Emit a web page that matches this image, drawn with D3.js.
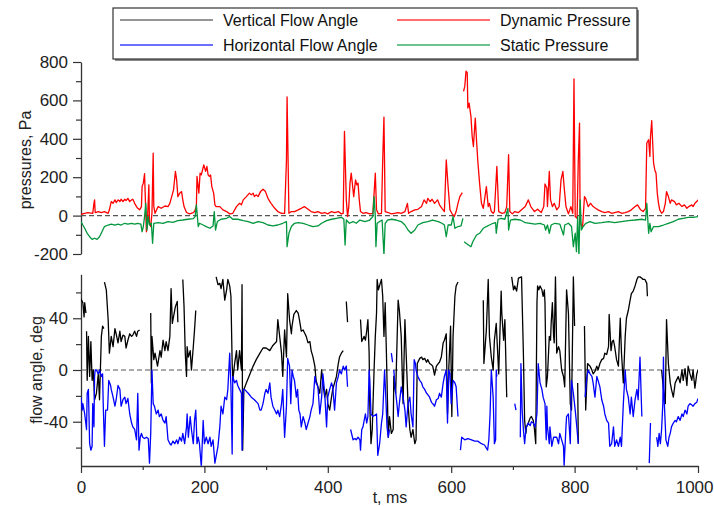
<!DOCTYPE html>
<html><head><meta charset="utf-8">
<script src="https://cdn.jsdelivr.net/npm/d3@7"></script>
<style>body{margin:0;background:#fff}svg{display:block;font-family:"Liberation Sans",Arial,sans-serif}</style>
</head><body><svg id="c" width="714" height="506"></svg>
<script>
// ---- data (t in ms, value) ; null = gap ----
const xTicks = [0,200,400,600,800,1000];
const pressureTicks = [-200,0,200,400,600,800];
const angleTicks = [-40,0,40];
const seriesNames = ["Vertical Flow Angle","Dynamic Pressure","Horizontal Flow Angle","Static Pressure"];

const dynamicPressure = [[0,7],[6,12],[11,16],[19,12],[21,64],[22,82],[23,16],[28,21],[33,16],[38,21],[44,12],[46,30],[49,73],[52,64],[55,82],[57,68],[60,82],[63,73],[65,85],[68,73],[71,85],[73,78],[76,90],[79,73],[82,82],[84,85],[87,64],[90,47],[92,38],[95,30],[98,47],[99,151],[101,169],[103,218],[105,12],[106,-84],[108,-5],[110,160],[111,-40],[113,-57],[115,12],[117,325],[118,47],[120,12],[125,47],[130,38],[136,50],[141,47],[144,64],[147,99],[150,134],[153,230],[155,186],[157,99],[160,117],[163,125],[165,82],[167,47],[171,16],[176,9],[182,16],[184,21],[187,47],[188,204],[191,117],[193,221],[195,212],[197,238],[199,264],[202,230],[204,256],[206,212],[208,204],[210,212],[212,151],[215,117],[217,56],[219,47],[225,47],[230,30],[236,21],[241,9],[246,12],[252,47],[257,64],[260,56],[263,82],[268,99],[273,117],[276,108],[279,117],[281,99],[284,108],[287,99],[291,125],[295,137],[299,125],[303,90],[308,64],[314,38],[319,21],[325,12],[330,12],[333,290],[334,618],[337,12],[341,21],[346,21],[352,30],[357,38],[362,47],[368,33],[373,21],[379,16],[384,21],[390,12],[395,16],[400,9],[406,21],[411,16],[417,21],[422,9],[425,12],[427,438],[430,82],[432,-5],[434,47],[436,169],[438,221],[440,160],[442,99],[445,186],[447,160],[449,169],[451,82],[453,21],[457,12],[462,16],[468,9],[473,12],[477,221],[479,30],[482,9],[487,12],[489,290],[491,513],[493,21],[498,16],[503,9],[508,12],[514,16],[519,12],[525,21],[529,64],[531,12],[535,21],[541,30],[546,33],[552,47],[556,82],[560,64],[562,90],[566,73],[569,85],[573,64],[578,82],[581,56],[585,38],[589,21],[592,290],[595,151],[598,30],[601,12],[605,-5],[608,21],[611,64],[614,99],[618,120],[619,null],[620,647],[622,673],[624,752],[626,743],[627,560],[629,586],[632,517],[634,412],[636,360],[639,508],[641,395],[643,290],[646,169],[649,64],[652,38],[654,82],[657,151],[660,47],[662,64],[665,21],[668,12],[670,21],[674,256],[677,21],[682,12],[687,16],[690,47],[693,317],[695,21],[699,9],[703,21],[709,16],[714,30],[720,47],[725,82],[729,47],[735,21],[740,33],[746,16],[750,47],[752,165],[755,143],[756,47],[759,230],[761,82],[764,47],[767,64],[771,30],[775,47],[778,186],[781,230],[783,151],[786,47],[790,9],[794,47],[797,12],[799,712],[801,-5],[804,-14],[806,290],[808,482],[809,-40],[813,-57],[816,99],[818,90],[822,47],[826,64],[830,47],[834,38],[838,30],[844,21],[849,16],[855,21],[860,12],[865,16],[871,21],[876,12],[882,16],[887,21],[892,30],[898,47],[902,56],[907,30],[911,21],[915,38],[917,378],[920,395],[922,308],[923,412],[925,494],[928,273],[930,238],[932,221],[934,117],[936,64],[938,30],[941,12],[944,21],[947,64],[949,125],[952,99],[955,64],[957,82],[962,73],[965,56],[969,64],[974,47],[978,56],[982,38],[985,47],[990,56],[992,47],[995,64],[998,73],[1000,82]];

const staticPressure = [[0,-31],[3,-49],[6,-66],[10,-92],[14,-110],[18,-124],[22,-118],[26,-124],[30,-110],[34,-84],[38,-57],[44,-49],[49,-44],[55,-49],[60,-44],[65,-49],[71,-40],[76,-44],[82,-40],[87,-44],[92,-40],[97,-44],[99,-84],[101,-57],[103,-5],[105,64],[107,-75],[109,-5],[111,-49],[114,-40],[116,-144],[118,-40],[125,-37],[133,-40],[141,-31],[149,-35],[157,-26],[165,-23],[173,-19],[182,-16],[185,-5],[187,56],[190,-57],[192,-40],[198,-49],[203,-57],[209,-66],[214,-54],[216,21],[218,-75],[221,-31],[227,-19],[236,-14],[241,-5],[246,-19],[254,-19],[263,-26],[271,-31],[279,-40],[287,-31],[295,-37],[303,-49],[311,-54],[319,-49],[327,-40],[333,-31],[334,-162],[337,-92],[341,-57],[346,-40],[352,-37],[360,-40],[368,-49],[376,-57],[384,-54],[390,-40],[398,-26],[406,-19],[414,-14],[422,-9],[426,-19],[428,-153],[430,-23],[435,-40],[441,-31],[446,-40],[452,-23],[460,-31],[468,-23],[473,-5],[475,99],[477,-5],[478,-162],[480,-40],[484,-31],[488,-23],[491,-205],[493,-40],[497,-23],[503,-19],[511,-23],[519,-31],[525,-49],[530,-75],[535,-92],[541,-75],[546,-49],[554,-37],[562,-31],[570,-23],[579,-31],[585,-40],[589,-49],[592,-110],[595,-49],[600,-49],[603,-5],[606,-66],[611,-57],[616,-54],[619,-14],[620,null],[621,-136],[624,-144],[628,-153],[632,-162],[635,-136],[641,-101],[646,-92],[652,-66],[657,-57],[662,-49],[668,-40],[672,-37],[673,-92],[676,-19],[681,-14],[687,-19],[692,38],[693,-75],[696,-23],[703,-19],[712,-23],[720,-37],[728,-40],[736,-44],[744,-40],[751,-49],[753,-75],[756,-49],[759,-92],[762,-49],[768,-40],[776,-44],[782,-101],[784,-49],[790,-40],[795,-57],[798,-162],[801,-92],[803,-188],[805,-5],[807,-214],[809,82],[811,-75],[814,-57],[818,-40],[825,-31],[833,-40],[844,-37],[855,-31],[865,-37],[876,-31],[887,-26],[898,-23],[909,-19],[915,-23],[917,64],[920,-92],[922,-40],[924,-84],[928,-57],[936,-57],[944,-49],[952,-40],[960,-31],[968,-19],[976,-14],[984,-9],[992,-9],[1000,-5]];

const verticalAngle = [[0,55],[3,52],[5,41],[6,52],[8,44],[8.5,null],[9,30],[10,-8],[12,26],[14,-5],[16,22],[18,-8],[20,0],[22,-23],[25,-18],[28,-3],[30,-23],[33,26],[35,34],[37,32],[37.5,null],[38,68],[41,62],[44,39],[46,13],[49,26],[52,18],[55,32],[57,28],[60,21],[63,30],[65,22],[68,27],[71,26],[73,17],[76,23],[79,28],[82,26],[84,27],[87,30],[90,26],[92,30],[95,31],[100,null],[113,44],[114,-10],[115,26],[118,8],[120,13],[124,3],[128,15],[130,10],[133,23],[136,15],[138,22],[141,15],[144,26],[146,63],[148,36],[151,44],[153,49],[156,53],[157,37],[160,null],[165,70],[167,49],[169,13],[171,-5],[172,18],[174,10],[177,15],[179,0],[182,18],[184,31],[186,46],[190,null],[219,72],[222,66],[225,67],[227,63],[230,70],[233,54],[236,62],[238,70],[241,65],[243,57],[245,5],[246,-8],[249,5],[252,15],[254,0],[257,15],[260,0],[261,66],[262,-62],[264,-15],[268,-10],[273,-4],[279,3],[284,8],[290,13],[295,17],[300,17],[306,15],[311,19],[317,22],[319,39],[322,26],[325,13],[327,-5],[330,31],[333,10],[335,59],[338,39],[341,28],[342,34],[345,43],[349,46],[352,44],[354,39],[357,30],[360,31],[363,28],[365,26],[368,21],[371,22],[373,15],[376,10],[379,3],[381,-8],[384,-13],[387,-18],[390,0],[392,-10],[395,-21],[398,-15],[400,-26],[403,-31],[406,-21],[408,-15],[411,-10],[414,-5],[417,5],[419,10],[422,13],[425,15],[427,null],[430,53],[432,37],[440,null],[453,39],[455,22],[459,26],[461,23],[463,30],[465,39],[467,13],[468,-26],[470,-57],[472,-46],[475,0],[477,26],[479,44],[480,70],[482,62],[485,67],[487,70],[489,57],[491,26],[493,52],[495,13],[498,-52],[500,-36],[503,-49],[506,-46],[507,-5],[510,-18],[514,54],[516,46],[519,26],[522,-26],[525,39],[527,13],[530,-26],[533,-46],[535,-52],[538,-46],[541,-57],[543,-54],[545,5],[549,9],[552,10],[554,8],[557,9],[560,6],[562,8],[565,5],[568,4],[570,3],[573,-4],[576,3],[579,5],[581,6],[584,10],[587,21],[589,23],[592,28],[594,-34],[596,0],[599,34],[601,-36],[603,26],[606,57],[608,65],[611,68],[620,null],[652,54],[653,5],[657,31],[660,70],[662,26],[665,10],[668,0],[670,23],[673,36],[677,-3],[681,61],[682,44],[685,23],[687,39],[690,-21],[694,null],[698,72],[701,62],[703,65],[706,61],[709,71],[714,72],[717,13],[719,-39],[721,-49],[722,-44],[725,-41],[728,-37],[730,-36],[733,-39],[735,-46],[737,-57],[739,52],[740,65],[742,62],[744,65],[747,62],[749,57],[751,62],[752,52],[754,-13],[756,-5],[759,26],[761,23],[762,36],[764,52],[766,26],[767,21],[769,72],[771,13],[774,18],[776,15],[779,0],[782,-5],[784,-13],[787,62],[790,44],[793,-26],[795,-31],[798,72],[800,34],[802,null],[805,-10],[806,-57],[810,null],[816,34],[818,-31],[821,5],[825,3],[828,0],[830,-3],[833,-1],[836,3],[838,0],[841,5],[844,8],[847,9],[849,13],[852,12],[855,18],[856,43],[859,15],[861,22],[863,23],[865,18],[868,8],[871,3],[874,40],[876,13],[879,-10],[882,26],[884,40],[887,46],[890,54],[892,59],[895,61],[898,65],[901,70],[903,72],[906,72],[909,71],[911,70],[914,70],[917,67],[918,57],[930,null],[941,0],[944,-15],[947,-26],[949,39],[952,5],[955,-10],[957,-15],[960,-21],[963,-10],[965,-8],[968,-5],[971,-10],[974,0],[976,-8],[979,1],[982,-12],[984,3],[987,-3],[990,-8],[992,0],[995,-14],[998,-3],[1000,0]];

const horizontalAngle = [[0,-21],[2,-31],[3,-26],[6,-34],[9,-46],[10,-18],[12,-15],[14,-57],[16,-62],[18,-59],[19,-26],[21,-44],[22,-5],[23,0],[25,0],[28,-3],[30,0],[33,-5],[35,-3],[36,-26],[38,-59],[40,-31],[43,-31],[45,-8],[48,-12],[49,-15],[52,-21],[55,-28],[57,-23],[60,-12],[63,-15],[65,-28],[68,-23],[71,-21],[73,-26],[76,-22],[79,-34],[82,-41],[84,-44],[87,-46],[90,-54],[92,-18],[94,-62],[96,-52],[98,-49],[100,-52],[103,-53],[106,-52],[109,-53],[111,-72],[113,-49],[115,0],[117,-26],[119,-28],[122,-34],[125,-31],[127,-36],[130,-34],[133,-39],[136,-41],[138,-36],[141,-54],[144,-57],[146,-58],[149,-55],[152,-57],[155,-54],[157,-57],[160,-52],[163,-55],[165,-49],[168,-57],[171,-44],[172,-34],[174,-52],[177,-36],[179,-46],[182,-57],[184,-39],[186,-31],[188,-57],[190,-52],[192,-57],[195,-75],[198,-39],[200,-57],[203,-52],[206,-57],[209,-52],[211,-59],[214,-54],[217,-72],[222,-59],[225,-44],[227,-28],[230,-34],[233,-21],[236,-23],[238,-15],[241,13],[243,-13],[245,-65],[246,-5],[249,-10],[252,-8],[254,-12],[257,-15],[260,-18],[261,-62],[263,-15],[265,-15],[271,-18],[276,-21],[281,-23],[287,-26],[290,-31],[292,-31],[295,-26],[298,-18],[300,-15],[303,-18],[306,-10],[308,-21],[311,-28],[314,-31],[317,-34],[319,-31],[322,-36],[325,-26],[327,-15],[330,-52],[333,-28],[335,9],[338,3],[340,-26],[342,0],[344,-5],[346,-8],[349,-21],[351,-15],[353,-31],[355,-34],[357,-44],[360,-36],[363,-41],[365,-46],[368,-41],[371,-36],[373,-31],[376,-26],[379,-5],[381,-10],[384,-13],[387,-34],[390,-21],[392,-3],[395,-18],[398,-44],[400,-21],[403,-15],[406,-10],[408,-13],[411,-31],[414,-10],[417,-5],[419,0],[422,-3],[425,3],[427,0],[430,3],[432,-13],[434,null],[437,-46],[441,-54],[444,-53],[446,-54],[449,-52],[452,-54],[453,-62],[455,-46],[457,-44],[459,-39],[461,-34],[463,-41],[465,-36],[467,0],[468,-8],[470,-34],[473,-36],[479,-34],[481,-66],[484,-57],[487,-41],[489,-34],[492,0],[494,-21],[496,-44],[498,-52],[500,-46],[501,null],[503,13],[505,6],[506,null],[507,0],[509,-13],[512,-26],[514,-36],[516,-26],[519,-13],[522,-21],[525,-31],[527,-44],[530,-26],[533,-21],[535,-34],[538,-44],[540,8],[542,5],[543,0],[546,-5],[549,-8],[552,-10],[554,-13],[557,-15],[560,-18],[562,-19],[565,-21],[568,-25],[570,-26],[573,-28],[576,-23],[579,-22],[581,-18],[584,-21],[587,-10],[589,-5],[592,0],[594,-41],[596,0],[598,-3],[600,-26],[603,-8],[606,-10],[608,-13],[611,-36],[613,null],[615,-62],[617,-52],[622,-54],[627,-53],[633,-54],[638,-55],[643,-55],[649,-57],[654,-58],[659,-62],[661,-54],[663,-34],[665,0],[668,-21],[670,-57],[672,-54],[673,0],[674,-5],[675,null],[703,-26],[705,-31],[706,null],[712,-52],[713,5],[715,-31],[717,-46],[719,-57],[721,-46],[722,-44],[725,-41],[728,-43],[730,-40],[733,-41],[736,-44],[739,-34],[741,5],[744,-10],[747,-15],[749,-21],[752,-26],[754,-54],[755,-28],[756,-44],[759,-57],[760,-44],[763,-59],[766,-52],[768,-52],[771,-52],[774,-57],[776,-49],[779,-54],[782,-59],[783,-74],[786,-44],[787,-36],[790,-34],[793,-57],[795,-8],[798,-18],[801,-31],[803,-41],[806,-57],[810,null],[817,-21],[820,-5],[822,0],[825,-3],[828,-5],[830,-10],[833,-21],[836,-5],[838,-8],[841,-13],[844,-23],[847,-28],[849,-34],[852,-39],[855,-41],[857,-59],[860,-57],[863,-44],[865,-59],[868,-54],[871,-59],[874,-52],[876,-59],[879,-26],[882,0],[884,-15],[887,-21],[890,-34],[892,-21],[895,-36],[898,-23],[901,-15],[903,-23],[906,10],[908,-21],[909,-36],[915,null],[921,-72],[923,-41],[928,null],[933,-52],[935,-59],[937,-49],[939,-57],[941,-46],[943,-26],[944,10],[945,-21],[948,-54],[951,-59],[953,-52],[955,-49],[957,-44],[960,-41],[963,-39],[965,-40],[968,-36],[971,-39],[974,-34],[976,-36],[979,-31],[982,-34],[984,-28],[987,-26],[990,-27],[992,-28],[995,-26],[998,-25],[1000,-22]];

// ---- layout ----
const svg = d3.select("#c");
const FONT = 17;
const fmt = d => String(d);
const x = d3.scaleLinear().domain([0,1000]).range([81,698]);
const yP = d3.scaleLinear().domain([-200,800]).range([254,62]);
const yA = d3.scaleLinear().domain([-74,74]).range([465.7,274.3]);

const defs = svg.append("defs");
defs.append("clipPath").attr("id","clipTop").append("rect").attr("x",81).attr("y",62).attr("width",617).attr("height",192);
defs.append("clipPath").attr("id","clipBot").append("rect").attr("x",81).attr("y",274.3).attr("width",617).attr("height",191.4);

function minorTicks(vals, major){ return vals.filter(v=>!major.includes(v)); }

function styleAxis(g){
  g.select(".domain").attr("stroke","#333").attr("stroke-width",1.3);
  g.selectAll(".tick line").attr("stroke","#333").attr("stroke-width",1.2);
  g.selectAll(".tick text").attr("font-size",FONT).attr("fill","#222").attr("font-family","Liberation Sans, Arial, sans-serif");
}

// top y axis
const gTop = svg.append("g").attr("transform","translate(81,0)")
  .call(d3.axisLeft(yP).tickValues(pressureTicks).tickFormat(fmt).tickSize(8).tickSizeOuter(0).tickPadding(5));
styleAxis(gTop);
svg.append("g").attr("transform","translate(81,0)")
  .call(d3.axisLeft(yP).tickValues(minorTicks(d3.range(-200,801,100),pressureTicks)).tickSize(5).tickSizeOuter(0).tickFormat(""))
  .call(g=>{g.select(".domain").remove(); g.selectAll(".tick line").attr("stroke","#333").attr("stroke-width",1.2);});

// bottom y axis
const gBotY = svg.append("g").attr("transform","translate(81,0)")
  .call(d3.axisLeft(yA).tickValues(angleTicks).tickFormat(fmt).tickSize(8).tickSizeOuter(0).tickPadding(5));
styleAxis(gBotY);
svg.append("g").attr("transform","translate(81,0)")
  .call(d3.axisLeft(yA).tickValues([-60,-20,20,60]).tickSize(5).tickFormat(""))
  .call(g=>{g.select(".domain").remove(); g.selectAll(".tick line").attr("stroke","#333").attr("stroke-width",1.2);});

// bottom x axis
const gX = svg.append("g").attr("transform","translate(0,466)")
  .call(d3.axisBottom(x).tickValues(xTicks).tickFormat(fmt).tickSize(7).tickSizeOuter(0).tickPadding(8));
styleAxis(gX);
// keep the last label inside the page
gX.selectAll(".tick text").filter(d=>d===1000).attr("text-anchor","end").attr("x",15);
svg.append("g").attr("transform","translate(0,466)")
  .call(d3.axisBottom(x).tickValues(minorTicks(d3.range(0,1001,100),xTicks)).tickSize(4).tickFormat(""))
  .call(g=>{g.select(".domain").remove(); g.selectAll(".tick line").attr("stroke","#333").attr("stroke-width",1.2);});

// zero dashed lines
svg.append("line").attr("x1",x(0)).attr("x2",x(1000)).attr("y1",yP(0)).attr("y2",yP(0))
  .attr("stroke","#555").attr("stroke-width",1.2).attr("stroke-dasharray","5,3");
svg.append("line").attr("x1",x(0)).attr("x2",x(1000)).attr("y1",yA(0)).attr("y2",yA(0))
  .attr("stroke","#555").attr("stroke-width",1.2).attr("stroke-dasharray","5,3");

// series lines
function drawLine(data, yScale, color, clip){
  const line = d3.line().defined(d=>d[1]!==null).x(d=>x(d[0])).y(d=>yScale(d[1]));
  svg.append("path").datum(data).attr("d",line).attr("fill","none")
    .attr("stroke",color).attr("stroke-width",1.3).attr("stroke-linejoin","round")
    .attr("clip-path","url(#"+clip+")");
}
const colors = {"Vertical Flow Angle":"#000000","Dynamic Pressure":"#ff0000","Horizontal Flow Angle":"#0000ff","Static Pressure":"#00963c"};
drawLine(dynamicPressure, yP, colors["Dynamic Pressure"], "clipTop");
drawLine(staticPressure, yP, colors["Static Pressure"], "clipTop");
drawLine(verticalAngle, yA, colors["Vertical Flow Angle"], "clipBot");
drawLine(horizontalAngle, yA, colors["Horizontal Flow Angle"], "clipBot");

// axis titles
svg.append("text").attr("transform","translate(25,160) rotate(-90)").attr("text-anchor","middle")
  .attr("dy","0.35em").attr("font-size",16).attr("fill","#222").text("pressures, Pa");
svg.append("text").attr("transform","translate(36,370) rotate(-90)").attr("text-anchor","middle")
  .attr("dy","0.35em").attr("font-size",16).attr("fill","#222").text("flow angle, deg");
svg.append("text").attr("x",390).attr("y",503).attr("text-anchor","middle")
  .attr("font-size",16).attr("fill","#222").text("t, ms");

// legend
const lg = svg.append("g");
lg.append("rect").attr("x",115).attr("y",10).attr("width",524).attr("height",51).attr("fill","#888");
lg.append("rect").attr("x",113).attr("y",8).attr("width",524).attr("height",51).attr("fill","#fff").attr("stroke","#333").attr("stroke-width",1.2);
const legendItems = [
  {name:seriesNames[0], lx:120, ty:20},
  {name:seriesNames[1], lx:397, ty:20},
  {name:seriesNames[2], lx:120, ty:45},
  {name:seriesNames[3], lx:397, ty:45}
];
legendItems.forEach(it=>{
  lg.append("line").attr("x1",it.lx).attr("x2",it.lx+93).attr("y1",it.ty).attr("y2",it.ty)
    .attr("stroke",colors[it.name]).attr("stroke-width",1.5).attr("opacity",it.name==="Vertical Flow Angle"?0.55:0.75);
  lg.append("text").attr("x",it.lx+103).attr("y",it.ty).attr("dy","0.35em")
    .attr("font-size",16).attr("fill","#111").text(it.name);
});
</script></body></html>
